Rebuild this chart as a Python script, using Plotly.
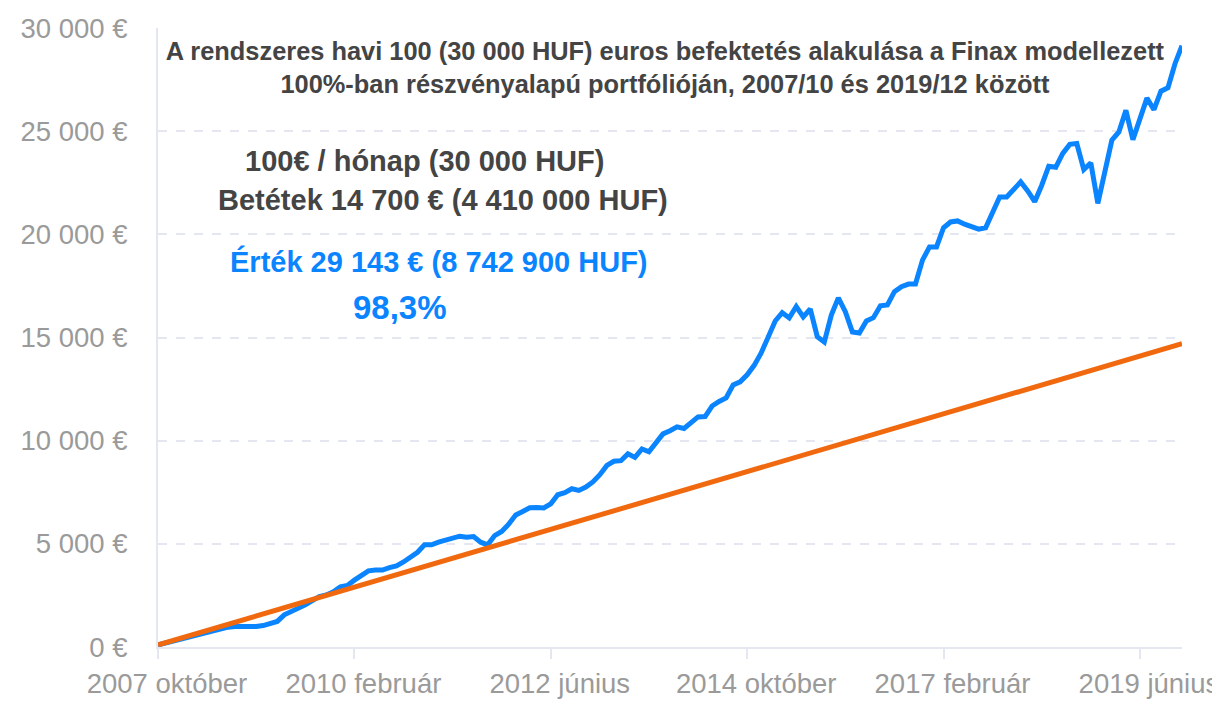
import plotly.graph_objects as go

honapok = ["január", "február", "március", "április", "május", "június",
           "július", "augusztus", "szeptember", "október", "november", "december"]

# 2007 október .. 2019 december, havonta
datumok = []
for ev in range(2007, 2020):
    for i, h in enumerate(honapok):
        if ev == 2007 and i < 9:
            continue
        datumok.append(f"{ev} {h}")

betetek = [100 * (i + 1) for i in range(len(datumok))]

ertek = [
    100, 190, 285, 370, 455, 540, 620, 700, 790, 880,
    960, 990, 980, 960, 990, 1040, 1160, 1240, 1560, 1720,
    1840, 2040, 2250, 2440, 2520, 2680, 2920, 2980, 3240, 3480,
    3690, 3730, 3730, 3850, 3930, 4120, 4320, 4590, 4950, 4950,
    5080, 5160, 5240, 5370, 5320, 5350, 5080, 4950, 5400, 5600,
    5950, 6400, 6570, 6750, 6760, 6740, 6940, 7380, 7480, 7670,
    7590, 7750, 8000, 8350, 8800, 9000, 9030, 9360, 9190, 9600,
    9460, 9900, 10330, 10480, 10670, 10590, 10860, 11150, 11170, 11680,
    11900, 12070, 12700, 12850, 13190, 13650, 14250, 15000, 15800, 16200,
    15950, 16500, 16000, 16380, 15040, 14780, 16090, 16920, 16250, 15270,
    15220, 15800, 15960, 16540, 16580, 17220, 17460, 17590, 17590, 18750,
    19390, 19390, 20320, 20600, 20650, 20490, 20390, 20250, 20320, 21090,
    21810, 21810, 22200, 22540, 22100, 21580, 22380, 23300, 23250, 23920,
    24360, 24400, 23140, 23460, 21500, 22950, 24560, 24960, 26010, 24590,
    25600, 26600, 26040, 26940, 27110, 28270, 29143,
]

y_ticks = [0, 5000, 10000, 15000, 20000, 25000, 30000]
y_labels = ["0 €", "5 000 €", "10 000 €", "15 000 €", "20 000 €", "25 000 €", "30 000 €"]
x_ticks = [datumok[i] for i in range(0, len(datumok), 28)]

kek = "#0a84ff"
narancs = "#f0690f"
szurke = "#444444"

fig = go.Figure()
fig.add_trace(go.Scatter(x=datumok, y=ertek, mode="lines",
                         line=dict(color=kek, width=5), name="Érték"))
fig.add_trace(go.Scatter(x=datumok, y=betetek, mode="lines",
                         line=dict(color=narancs, width=5), name="Betétek"))

fig.update_layout(
    width=1220, height=714,
    margin=dict(l=150, r=46, t=20, b=75, autoexpand=False),
    paper_bgcolor="white", plot_bgcolor="white",
    showlegend=False,
    font=dict(family="Liberation Sans, Arial, sans-serif", color="#9a9a9a"),
    title=dict(
        text="A rendszeres havi 100 (30 000 HUF) euros befektetés alakulása a Finax modellezett<br>"
             "100%-ban részvényalapú portfólióján, 2007/10 és 2019/12 között",
        x=0.5385, xanchor="center", y=0.927, yanchor="middle",
        font=dict(size=25.4, color=szurke, weight="bold"),
    ),
)

fig.update_xaxes(
    type="category", range=[0, len(datumok) - 1],
    tickmode="array", tickvals=x_ticks, ticktext=x_ticks,
    tickfont=dict(size=27.5, color="#9a9a9a"), ticklabelstandoff=1,
    ticklabelshift=9,
    showgrid=False, showline=True, linecolor="#e4e7ef", linewidth=2,
    ticks="outside", ticklen=10, tickcolor="#e4e7ef", tickwidth=2,
    zeroline=False,
)
fig.update_yaxes(
    range=[0, 30000], tickmode="array", tickvals=y_ticks, ticktext=y_labels,
    tickfont=dict(size=27.5, color="#9a9a9a"), ticklabelstandoff=23,
    showgrid=True, gridcolor="#e4e7ef", griddash="dash", gridwidth=1.5,
    showline=True, linecolor="#e4e7ef", linewidth=2, zeroline=False,
)

jegyzetek = [
    ("100€ / hónap (30 000 HUF)", 0.26, 0.785, 29, szurke),
    ("Betétek 14 700 € (4 410 000 HUF)", 0.278, 0.722, 29, szurke),
    ("Érték 29 143 € (8 742 900 HUF)", 0.274, 0.622, 29, kek),
    ("98,3%", 0.236, 0.549, 33, kek),
]
for szoveg, x, y, meret, szin in jegyzetek:
    fig.add_annotation(text=szoveg, xref="paper", yref="paper", x=x, y=y,
                       xanchor="center", yanchor="middle", showarrow=False,
                       font=dict(size=meret, color=szin, weight="bold"))

fig.write_html("out.html")
